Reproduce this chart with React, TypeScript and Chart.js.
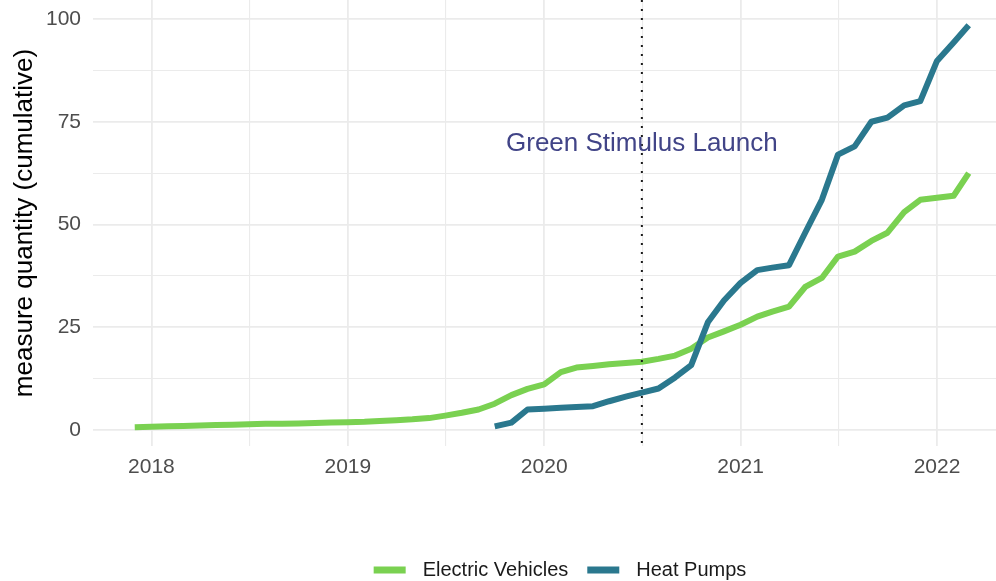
import React, { useEffect, useRef } from 'react';
import { Chart, registerables } from 'chart.js';

Chart.register(...registerables);

// ---------- data ----------
const months = [
  '2017-12',
  '2018-01', '2018-02', '2018-03', '2018-04', '2018-05', '2018-06',
  '2018-07', '2018-08', '2018-09', '2018-10', '2018-11', '2018-12',
  '2019-01', '2019-02', '2019-03', '2019-04', '2019-05', '2019-06',
  '2019-07', '2019-08', '2019-09', '2019-10', '2019-11', '2019-12',
  '2020-01', '2020-02', '2020-03', '2020-04', '2020-05', '2020-06',
  '2020-07', '2020-08', '2020-09', '2020-10', '2020-11', '2020-12',
  '2021-01', '2021-02', '2021-03', '2021-04', '2021-05', '2021-06',
  '2021-07', '2021-08', '2021-09', '2021-10', '2021-11', '2021-12',
  '2022-01', '2022-02', '2022-03',
];

const electricVehicles = [
  0.7,
  0.8, 0.9, 1.0, 1.1, 1.2, 1.3,
  1.4, 1.5, 1.55, 1.6, 1.7, 1.8,
  1.9, 2.0, 2.2, 2.4, 2.6, 2.9,
  3.5, 4.2, 5.0, 6.4, 8.5, 10.0,
  11.1, 14.1, 15.2, 15.6, 16.0, 16.3,
  16.6, 17.3, 18.1, 19.8, 22.5, 24.0,
  25.6, 27.6, 28.8, 30.0, 34.8, 37.0,
  42.2, 43.4, 46.0, 48.0, 53.0, 56.0,
  56.5, 57.0, 62.5,
];

const heatPumps: (number | null)[] = [
  null,
  null, null, null, null, null, null,
  null, null, null, null, null, null,
  null, null, null, null, null, null,
  null, null, null, 0.9, 1.8, 5.0,
  5.2, 5.4, 5.6, 5.8, 7.0, 8.1,
  9.1, 10.1, 12.8, 15.8, 26.2, 31.5,
  35.8, 38.9, 39.5, 40.1, 48.0, 56.0,
  67.0, 69.0, 75.0, 76.0, 79.0, 80.0,
  89.8, 94.3, 98.5,
];

const seriesLabels = ['Electric Vehicles', 'Heat Pumps'];
const seriesColors = ['#7AD151', '#2A788E'];

const xTickValues = [2018, 2019, 2020, 2021, 2022];
const xTickLabels = ['2018', '2019', '2020', '2021', '2022'];
const yTickValues = [0, 25, 50, 75, 100];
const yTickLabels = ['0', '25', '50', '75', '100'];

const yTitle = 'measure quantity (cumulative)';
const launchMonth = '2020-07';
const launchLabel = 'Green Stimulus Launch';
const launchLabelValue = 69.6;

// ---------- helpers ----------
function monthToYear(m: string): number {
  const [y, mo] = m.split('-').map(Number);
  const start = Date.UTC(y, 0, 1);
  const end = Date.UTC(y + 1, 0, 1);
  return y + (Date.UTC(y, mo - 1, 1) - start) / (end - start);
}

function midpoints(vals: number[]): number[] {
  const out: number[] = [];
  for (let i = 0; i < vals.length - 1; i++) out.push((vals[i] + vals[i + 1]) / 2);
  return out;
}

const FONT = "'Liberation Sans', Arial, Helvetica, sans-serif";
const W = 996;
const H = 581;
const PLOT_BOTTOM = 446;

export default function App() {
  const ref = useRef<HTMLCanvasElement>(null);

  useEffect(() => {
    document.body.style.margin = '0';
    const canvas = ref.current;
    if (!canvas) return;

    const xGrid = [...xTickValues, ...midpoints(xTickValues)].sort((a, b) => a - b);
    const yGrid = [...yTickValues, ...midpoints(yTickValues)].sort((a, b) => a - b);

    const evData = months.map((m, i) => ({ x: monthToYear(m), y: electricVehicles[i] }));
    const hpData = months
      .map((m, i) => ({ x: monthToYear(m), y: heatPumps[i] }))
      .filter((p) => p.y !== null);

    const overlayPlugin = {
      id: 'overlay',
      afterDatasetsDraw(chart: any) {
        const { ctx, chartArea, scales } = chart;
        const x = scales.x.getPixelForValue(monthToYear(launchMonth));
        ctx.save();
        ctx.beginPath();
        ctx.rect(chartArea.left, chartArea.top, chartArea.right - chartArea.left, chartArea.bottom - chartArea.top);
        ctx.clip();
        ctx.strokeStyle = '#1a1a1a';
        ctx.lineWidth = 2;
        ctx.setLineDash([2, 7]);
        ctx.beginPath();
        ctx.moveTo(x, chartArea.top);
        ctx.lineTo(x, chartArea.bottom);
        ctx.stroke();
        ctx.setLineDash([]);
        ctx.restore();

        ctx.save();
        ctx.font = `26px ${FONT}`;
        ctx.fillStyle = '#414487';
        ctx.textAlign = 'center';
        ctx.textBaseline = 'middle';
        ctx.fillText(launchLabel, x, scales.y.getPixelForValue(launchLabelValue));
        ctx.restore();
      },
      afterDraw(chart: any) {
        const { ctx } = chart;
        const boxW = 32;
        const boxH = 7;
        const gapText = 17;
        const gapItems = 19;
        const centerX = 560;
        const centerY = 570;
        ctx.save();
        ctx.font = `20px ${FONT}`;
        const widths = seriesLabels.map((l) => ctx.measureText(l).width);
        const total =
          widths.reduce((s, w) => s + boxW + gapText + w, 0) + gapItems * (seriesLabels.length - 1);
        let cx = centerX - total / 2;
        ctx.textBaseline = 'middle';
        ctx.textAlign = 'left';
        seriesLabels.forEach((label, i) => {
          ctx.fillStyle = seriesColors[i];
          ctx.fillRect(cx, centerY - boxH / 2, boxW, boxH);
          cx += boxW + gapText;
          ctx.fillStyle = '#1a1a1a';
          ctx.fillText(label, cx, centerY);
          cx += widths[i] + gapItems;
        });
        ctx.restore();
      },
    };

    const gridWidth = (majors: number[]) => (c: any) =>
      c.tick && majors.includes(c.tick.value) ? 1.8 : 1.1;

    const chart = new Chart(canvas, {
      type: 'line',
      data: {
        datasets: [
          {
            label: seriesLabels[0],
            data: evData,
            borderColor: seriesColors[0],
            backgroundColor: seriesColors[0],
            borderWidth: 6,
            pointRadius: 0,
            tension: 0,
            borderJoinStyle: 'round',
            borderCapStyle: 'butt',
            order: 1,
          },
          {
            label: seriesLabels[1],
            data: hpData as any,
            borderColor: seriesColors[1],
            backgroundColor: seriesColors[1],
            borderWidth: 6,
            pointRadius: 0,
            tension: 0,
            borderJoinStyle: 'round',
            borderCapStyle: 'butt',
            order: 0,
          },
        ],
      },
      options: {
        animation: false,
        responsive: true,
        maintainAspectRatio: false,
        layout: { padding: 0 },
        plugins: {
          legend: { display: false },
          tooltip: { enabled: false },
        },
        scales: {
          x: {
            type: 'linear',
            min: 2017.7025,
            max: 2022.3005,
            border: { display: false },
            grid: { color: '#ebebeb', lineWidth: gridWidth(xTickValues), drawTicks: false },
            ticks: {
              autoSkip: false,
              maxRotation: 0,
              padding: 9,
              color: '#4d4d4d',
              font: { family: FONT, size: 21 },
              callback: (v: any) => {
                const idx = xTickValues.indexOf(Number(v));
                return idx >= 0 ? xTickLabels[idx] : '';
              },
            },
            afterBuildTicks: (scale: any) => {
              scale.ticks = xGrid.map((v) => ({ value: v }));
            },
            afterFit: (scale: any) => {
              scale.height = H - PLOT_BOTTOM;
              scale.paddingLeft = 0;
              scale.paddingRight = 0;
            },
          },
          y: {
            type: 'linear',
            min: -3.89,
            max: 104.62,
            border: { display: false },
            grid: { color: '#ebebeb', lineWidth: gridWidth(yTickValues), drawTicks: false },
            ticks: {
              padding: 12,
              color: '#4d4d4d',
              font: { family: FONT, size: 21 },
              callback: (v: any) => {
                const idx = yTickValues.indexOf(Number(v));
                return idx >= 0 ? yTickLabels[idx] : '';
              },
            },
            afterBuildTicks: (scale: any) => {
              scale.ticks = yGrid.map((v) => ({ value: v }));
            },
            afterFit: (scale: any) => {
              scale.width = 93;
              scale.paddingTop = 0;
              scale.paddingBottom = 0;
            },
            title: {
              display: true,
              text: yTitle,
              color: '#000000',
              font: { family: FONT, size: 26 },
              padding: { top: 9, bottom: 0 },
            },
          },
        },
      },
      plugins: [overlayPlugin],
    } as any);

    return () => chart.destroy();
  }, []);

  return (
    <div style={{ position: 'fixed', left: 0, top: 0, width: W, height: H }}>
      <canvas ref={ref} />
    </div>
  );
}
